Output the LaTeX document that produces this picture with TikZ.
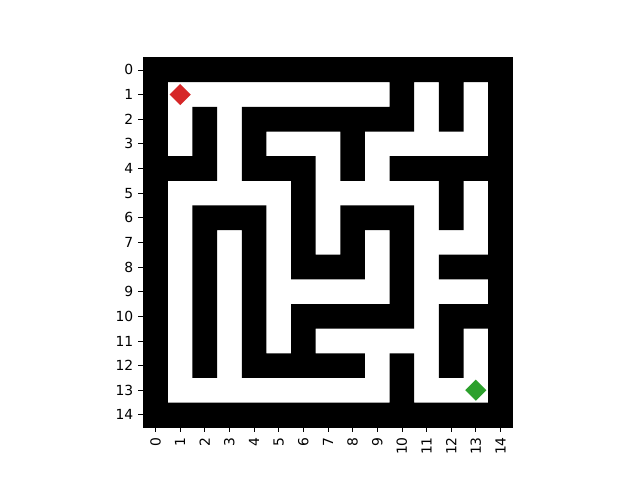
\documentclass[tikz,border=0pt]{standalone}
\usepackage{fontspec}
\setmainfont{DejaVu Sans}
\definecolor{mplred}{HTML}{D62728}
\definecolor{mplgreen}{HTML}{2CA02C}
\begin{document}
\begin{tikzpicture}[
  ticklabel/.style={font=\fontsize{10.42}{12}\selectfont, inner sep=0pt, text=black},
  tickmark/.style={line width=0.6pt, black},
  marker/.style={line width=0pt}
]
\useasboundingbox[fill=white] (0,0) rectangle (480pt,360pt);
\begin{scope}[shift={(107.4pt,316.8pt)}, x=18.48pt, y=-18.48pt]
  % white field
  \fill[white] (0,0) rectangle (15,15);
  % black walls: one path, union of cells
  \fill[black]
    \foreach \r/\cols in {
      0/{0,1,2,3,4,5,6,7,8,9,10,11,12,13,14},
      1/{0,10,12,14},
      2/{0,2,4,5,6,7,8,9,10,12,14},
      3/{0,2,4,8,14},
      4/{0,1,2,4,5,6,8,10,11,12,13,14},
      5/{0,6,12,14},
      6/{0,2,3,4,6,8,9,10,12,14},
      7/{0,2,4,6,8,10,14},
      8/{0,2,4,6,7,8,10,12,13,14},
      9/{0,2,4,10,14},
      10/{0,2,4,6,7,8,9,10,12,13,14},
      11/{0,2,4,6,12,14},
      12/{0,2,4,5,6,7,8,10,12,14},
      13/{0,10,14},
      14/{0,1,2,3,4,5,6,7,8,9,10,11,12,13,14}} {
      \foreach \c in \cols { (\c,\r) rectangle ++(1,1) }
    };
  % frame
  \draw[line width=0.6pt] (0,0) rectangle (15,15);
  % markers
  \fill[mplred] (1.07,1.5) -- (1.5,1.07) -- (1.93,1.5) -- (1.5,1.93) -- cycle;
  \coordinate (start) at (1.5,1.5);
  \fill[mplgreen] (13.07,13.5) -- (13.5,13.07) -- (13.93,13.5) -- (13.5,13.93) -- cycle;
  \coordinate (goal) at (13.5,13.5);
  % ticks and labels
  \foreach \i in {0,...,14} {
    \draw[tickmark] (0,\i+0.5) -- ++(-0.197,0);
    \node[ticklabel, anchor=east] (yl\i) at (-0.394,\i+0.5) {\i};
    \draw[tickmark] (\i+0.5,15) -- ++(0,0.197);
    \node[ticklabel, anchor=east, rotate=90] (xl\i) at (\i+0.5,15.394) {\i};
  }
\end{scope}
\end{tikzpicture}
\end{document}
